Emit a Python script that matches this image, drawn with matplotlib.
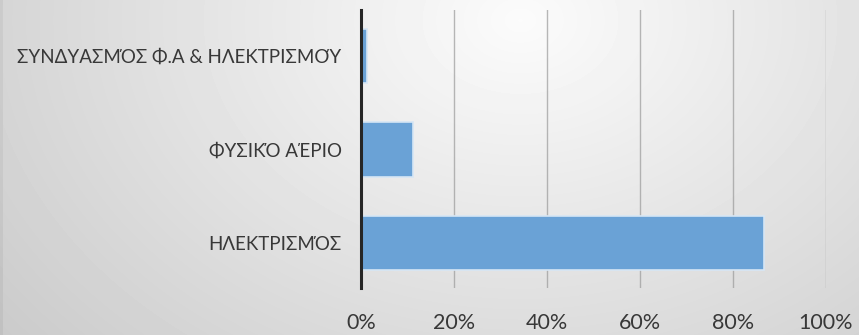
import numpy as np
import matplotlib
matplotlib.use("Agg")
import matplotlib.pyplot as plt
from matplotlib.ticker import FuncFormatter

# Τύπος ενέργειας για θέρμανση (ποσοστό νοικοκυριών)
categories = ["ΗΛΕΚΤΡΙΣΜΌΣ", "ΦΥΣΙΚΌ ΑΈΡΙΟ", "ΣΥΝΔΥΑΣΜΌΣ Φ.Α & ΗΛΕΚΤΡΙΣΜΟΎ"]
shares = [0.867, 0.112, 0.013]
x_ticks = [0, 0.2, 0.4, 0.6, 0.8, 1.0]

plt.rcParams["font.family"] = ["Lato", "DejaVu Sans"]

fig = plt.figure(figsize=(8.59, 3.35), dpi=100)

# φόντο με ακτινική διαβάθμιση
bg = fig.add_axes([0, 0, 1, 1], zorder=0)
h, w = 335, 859
yy, xx = np.mgrid[0:h, 0:w]
r = np.sqrt(((xx - 520) / 560.0) ** 2 + ((yy - 20) / 420.0) ** 2)
val = 0.985 - 0.16 * np.clip(r, 0, 1.3)
val[:, :3] -= 0.04
bg.imshow(val, cmap="gray", vmin=0, vmax=1, aspect="auto", interpolation="bilinear")
bg.axis("off")

ax = fig.add_axes([361 / 859, 1 - 288 / 335, 465 / 859, 278 / 335], zorder=1)
ax.set_facecolor("none")

y = np.arange(len(categories))
ax.barh(y, shares, height=0.58, color="#6aa2d6", edgecolor="#d6e6f5",
        linewidth=1.2, zorder=3)

ax.set_xlim(0, 1.0)
ax.set_ylim(-0.48, 2.49)
ax.set_xticks(x_ticks)
ax.xaxis.set_major_formatter(FuncFormatter(lambda v, _: f"{v * 100:.0f}%"))
ax.set_yticks(y)
ax.set_yticklabels(categories)

ax.grid(axis="x", color="#9a9a9a", linewidth=1.0, alpha=0.7, zorder=1)
for s in ["top", "right", "bottom"]:
    ax.spines[s].set_visible(False)
ax.spines["left"].set_color("#262626")
ax.spines["left"].set_linewidth(2.2)
ax.spines["left"].set_zorder(4)

ax.tick_params(axis="both", length=0, colors="#383838")
ax.tick_params(axis="y", pad=14, labelsize=13.5)
ax.tick_params(axis="x", pad=18, labelsize=15.5)

fig.savefig("out.png", dpi=100)
